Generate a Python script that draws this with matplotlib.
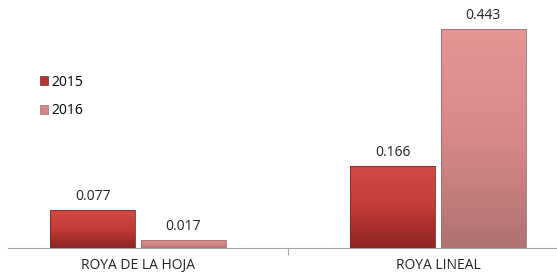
import matplotlib
matplotlib.use("Agg")
import matplotlib.pyplot as plt
import numpy as np
from matplotlib.colors import LinearSegmentedColormap
from matplotlib.patches import Patch

categories = ["ROYA DE LA HOJA", "ROYA LINEAL"]
series_names = ["2015", "2016"]
values_2015 = [0.077, 0.166]
values_2016 = [0.017, 0.443]
labels_2015 = ["0.077", "0.166"]
labels_2016 = ["0.017", "0.443"]

plt.rcParams['font.family'] = ['Open Sans', 'DejaVu Sans']

fig = plt.figure(figsize=(5.57, 2.74), dpi=100)
ax = fig.add_axes([8/557, 26/274, 549/557, 248/274])

x = np.arange(len(categories))
bw = 0.283
off = 0.151

grads = {
    "2015": LinearSegmentedColormap.from_list("g15", ["#8e2323", "#c43c36", "#d24a44"]),
    "2016": LinearSegmentedColormap.from_list("g16", ["#b07272", "#d88888", "#e69595"]),
}
flat = {"2015": "#b53330", "2016": "#d58686"}

def draw(xs, vals, labels, name):
    bars = ax.bar(xs, vals, bw, color=flat[name], edgecolor="none", zorder=2)
    grad = np.linspace(0, 1, 256).reshape(-1, 1)
    for b, lab in zip(bars, labels):
        x0, y0 = b.get_x(), b.get_y()
        w, h = b.get_width(), b.get_height()
        im = ax.imshow(grad, extent=[x0, x0 + w, y0, y0 + h], origin="lower",
                       cmap=grads[name], aspect="auto", zorder=2.5)
        im.set_clip_path(b)
        ax.add_patch(plt.Rectangle((x0, y0), w, h, fill=False,
                                   edgecolor="#7a2a2a" if name == "2015" else "#a07070",
                                   lw=0.6, zorder=3))
        ax.text(x0 + w / 2, y0 + h + 0.012, lab, ha="center", va="bottom",
                fontsize=10, color="#222222")

draw(x - off, values_2015, labels_2015, "2015")
draw(x + off, values_2016, labels_2016, "2016")

ax.set_xlim(-130/300, 419/300)
ax.set_ylim(0, 0.502)
ax.set_yticks([])
for s in ["top", "right", "left"]:
    ax.spines[s].set_visible(False)
ax.spines["bottom"].set_color("#a6a6a6")
ax.spines["bottom"].set_linewidth(0.8)
ax.set_xticks([0.5], minor=True)
ax.tick_params(axis="x", which="minor", length=5, color="#a6a6a6", width=0.8)
ax.set_xticks(x)
ax.set_xticklabels(categories, fontsize=10, color="#222222")
ax.tick_params(axis="x", which="major", length=0, pad=7)

handles = [Patch(facecolor=flat["2015"], edgecolor="#7a2a2a", lw=0.5),
           Patch(facecolor=flat["2016"], edgecolor="#a07070", lw=0.5)]
fig.legend(handles, series_names, loc="upper left", bbox_to_anchor=(27/557, 1 - 62/274),
           frameon=False, fontsize=10, handlelength=0.6, handleheight=0.6,
           handletextpad=0.25, labelspacing=1.0)

fig.savefig("out.png", dpi=100)
